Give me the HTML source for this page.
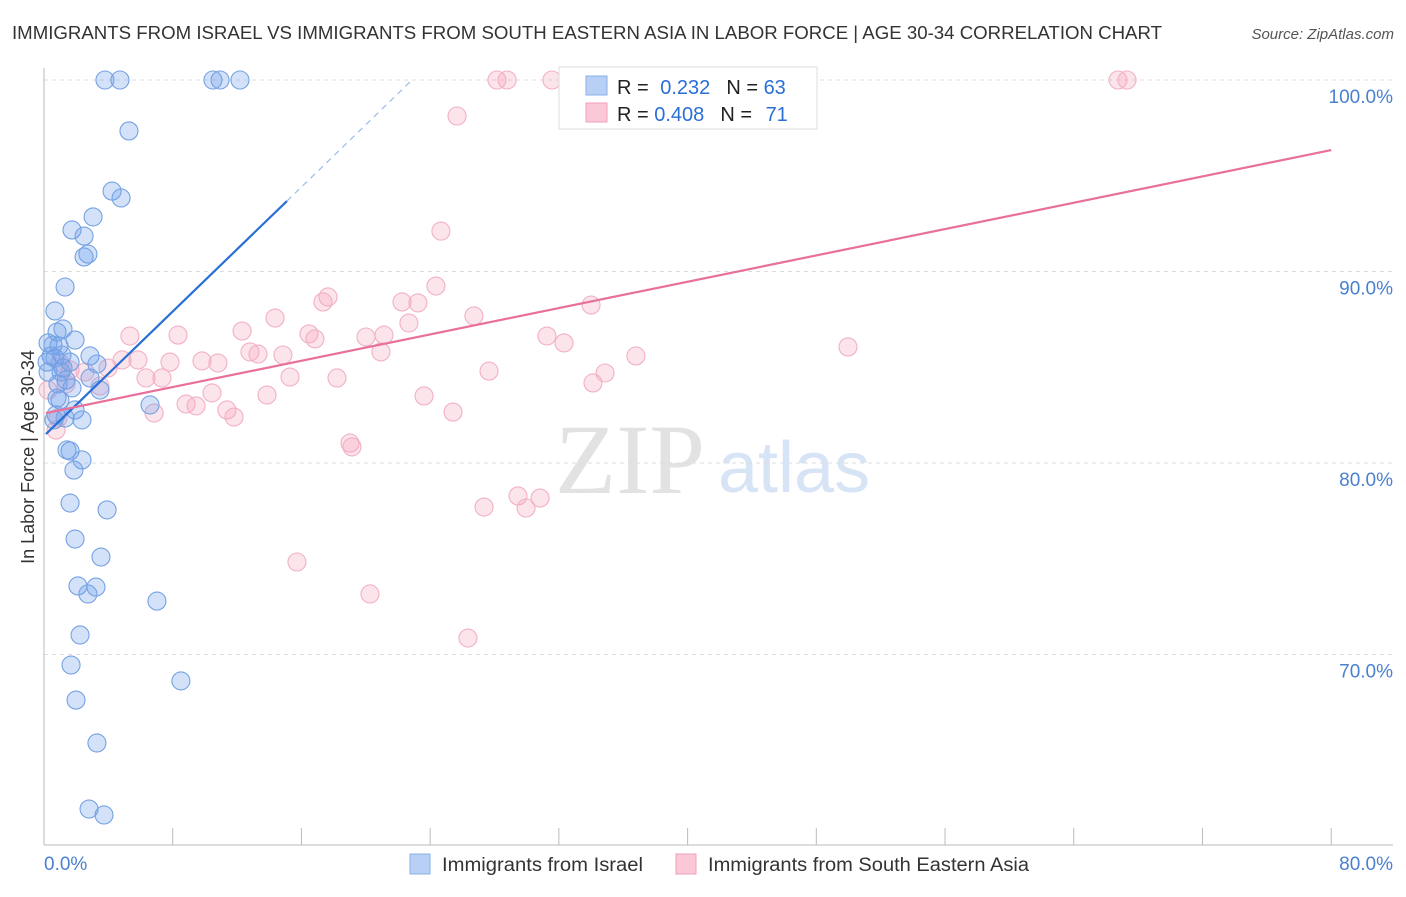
<!DOCTYPE html>
<html><head><meta charset="utf-8"><style>
body{margin:0;background:#fff;font-family:"Liberation Sans",sans-serif}
</style></head><body>
<svg width="1406" height="892" xmlns="http://www.w3.org/2000/svg" font-family="Liberation Sans, sans-serif">
<text x="12" y="39" font-size="18" fill="#333" textLength="1150" lengthAdjust="spacingAndGlyphs">IMMIGRANTS FROM ISRAEL VS IMMIGRANTS FROM SOUTH EASTERN ASIA IN LABOR FORCE | AGE 30-34 CORRELATION CHART</text>
<text x="1394" y="39" font-size="15" fill="#555" text-anchor="end" font-style="italic">Source: ZipAtlas.com</text>
<text x="555" y="493" font-size="100" fill="#e2e2e2" font-family="Liberation Serif, serif">ZIP</text>
<text x="718" y="492" font-size="72" fill="#d6e4f5">atlas</text>
<g id="grid"></g><g id="axes"></g><g id="pts"></g><g id="lines"></g>
<text transform="translate(34,457) rotate(-90)" font-size="18" fill="#333" text-anchor="middle">In Labor Force | Age 30-34</text>
<g>
<rect x="559" y="67" width="258" height="62" fill="#fff" stroke="#ddd"/>
<rect x="586" y="76" width="21" height="19" fill="#b8d0f5" stroke="#8ab0e8"/>
<rect x="586" y="103" width="21" height="19" fill="#fac8d6" stroke="#f0a0b8"/>
<text x="617" y="94" font-size="20" fill="#222">R = <tspan fill="#2a6fd6" dx="6">0.232</tspan><tspan dx="16">N = </tspan><tspan fill="#2a6fd6">63</tspan></text>
<text x="617" y="121" font-size="20" fill="#222">R = <tspan fill="#2a6fd6">0.408</tspan><tspan dx="16">N = </tspan><tspan fill="#2a6fd6" dx="8">71</tspan></text>
</g>
<g>
<rect x="410" y="854" width="20" height="20" fill="#b8d0f5" stroke="#8ab0e8"/>
<text x="442" y="871" font-size="19" fill="#333" textLength="201" lengthAdjust="spacingAndGlyphs">Immigrants from Israel</text>
<rect x="676" y="854" width="20" height="20" fill="#fac8d6" stroke="#f0a0b8"/>
<text x="708" y="871" font-size="19" fill="#333" textLength="321" lengthAdjust="spacingAndGlyphs">Immigrants from South Eastern Asia</text>
</g>
</svg>
<script>
const yTicks=[100,90,80,70];
const yTickLabels=["100.0%","90.0%","80.0%","70.0%"];
const xTickVals=[0,8,16,24,32,40,48,56,64,72,80];
const blueX=[3.79,4.72,10.5,10.94,12.18,5.28,4.23,4.79,3.05,1.74,2.49,2.73,2.49,1.31,0.68,0.81,1.18,1.93,0.25,0.56,0.93,0.44,0.68,1.12,2.86,0.19,3.29,1.18,1.37,2.86,0.87,1.74,3.48,0.99,1.93,0.75,1.31,2.36,6.59,0.62,1.43,1.62,2.36,1.86,1.62,3.92,1.93,3.54,2.11,3.23,2.73,7.02,2.24,1.68,8.51,1.99,3.29,2.8,3.73,0.81,1.62,1.06,0.25];
const blueY=[100,100,100,100,100,97.34,94.2,93.84,92.85,92.17,91.85,90.91,90.76,89.19,87.94,86.84,87.0,86.42,86.27,86.16,86.11,85.59,85.48,85.64,85.59,85.27,85.17,84.96,84.33,84.44,84.13,83.92,83.81,83.29,82.77,82.51,82.35,82.25,83.03,82.25,80.68,80.63,80.16,79.63,77.91,77.55,76.03,75.09,73.58,73.52,73.16,72.79,71.02,69.45,68.62,67.62,65.38,61.93,61.62,83.39,85.27,84.75,84.75];
const pinkX=[28.15,28.78,31.57,43.13,66.75,67.31,25.67,24.67,24.36,17.65,17.34,22.25,23.24,26.72,14.36,34.0,22.68,5.34,8.33,12.31,16.47,16.84,20.01,21.13,31.26,32.32,49.97,12.8,13.3,14.85,20.94,36.79,4.85,5.84,7.83,9.82,10.81,0.99,1.62,3.98,27.66,34.87,6.34,7.33,15.29,18.21,34.12,3.48,1.37,10.44,13.86,23.62,8.83,9.45,11.37,11.81,6.84,25.42,0.87,19.02,19.14,29.46,30.83,27.35,29.96,15.72,20.26,26.35,0.75,2.55,0.25];
const pinkY=[100,100,100,100,100,100,98.12,92.11,89.24,88.67,88.41,88.41,88.36,87.68,87.57,88.25,87.31,86.63,86.68,86.89,86.74,86.48,86.58,86.68,86.63,86.27,86.06,85.8,85.69,85.64,85.8,85.59,85.38,85.38,85.27,85.33,85.22,85.22,84.86,84.96,84.8,84.7,84.44,84.44,84.49,84.44,84.18,84.02,84.13,83.66,83.55,83.5,83.08,82.98,82.77,82.4,82.61,82.66,82.35,81.04,80.84,78.28,78.17,77.7,77.65,74.83,73.16,70.86,81.72,84.75,83.81];
const blueTrendX=[0.12,15.1,22.75];
const blueTrendY=[81.51,93.68,99.9];
const pinkTrendX=[0.12,80];
const pinkTrendY=[82.61,96.34];
const NS="http://www.w3.org/2000/svg";
const xs=v=>44+v*16.09, ys=v=>80+(100-v)*19.15;
function mk(tag,attrs,parent){const e=document.createElementNS(NS,tag);for(const k in attrs)e.setAttribute(k,attrs[k]);document.getElementById(parent).appendChild(e);return e;}
yTicks.forEach((t,i)=>{
  const l=mk('line',{x1:44,x2:1393,y1:ys(t),y2:ys(t),stroke:'#ddd','stroke-dasharray':'4,4'},'grid');
  
  
  const tx=mk('text',{x:1393,y:ys(t)+23,'font-size':19,fill:'#4a80d0','text-anchor':'end'},'grid');
  tx.textContent=yTickLabels[i];
  
  
});
const ya=mk('line',{x1:44,x2:44,y1:68,y2:845,stroke:'#bbb'},'axes');


const xa=mk('line',{x1:44,x2:1393,y1:845,y2:845,stroke:'#bbb'},'axes');


xTickVals.forEach(v=>{
  const t=mk('line',{x1:xs(v),x2:xs(v),y1:828,y2:845,stroke:'#bbb'},'axes');
  
  
});
[[0,"0.0%","start"],[80,"80.0%","end"]].forEach(([v,s,a])=>{
  const t=mk('text',{x:v==0?44:1393,y:870,'font-size':19,fill:'#4a80d0','text-anchor':a},'axes');
  t.textContent=s;
  
  
});
pinkX.forEach((x,i)=>{
  const c=mk('circle',{cx:xs(x),cy:ys(pinkY[i]),r:9,fill:'rgba(245,165,190,0.3)',stroke:'#f2b0c5','stroke-width':1.1},'pts');
  
  
});
blueX.forEach((x,i)=>{
  const c=mk('circle',{cx:xs(x),cy:ys(blueY[i]),r:9,fill:'rgba(110,160,235,0.3)',stroke:'#75a2e2','stroke-width':1.1},'pts');
  
  
});
const b1=mk('line',{x1:xs(blueTrendX[0]),y1:ys(blueTrendY[0]),x2:xs(blueTrendX[1]),y2:ys(blueTrendY[1]),stroke:'#2a6fd6','stroke-width':2.2},'lines');


const b2=mk('line',{x1:xs(blueTrendX[1]),y1:ys(blueTrendY[1]),x2:xs(blueTrendX[2]),y2:ys(blueTrendY[2]),stroke:'#9bbce8','stroke-width':1.2,'stroke-dasharray':'6,5'},'lines');


const p1=mk('line',{x1:xs(pinkTrendX[0]),y1:ys(pinkTrendY[0]),x2:xs(pinkTrendX[1]),y2:ys(pinkTrendY[1]),stroke:'#e8709a','stroke-width':2.2},'lines');


</script>
</body></html>
